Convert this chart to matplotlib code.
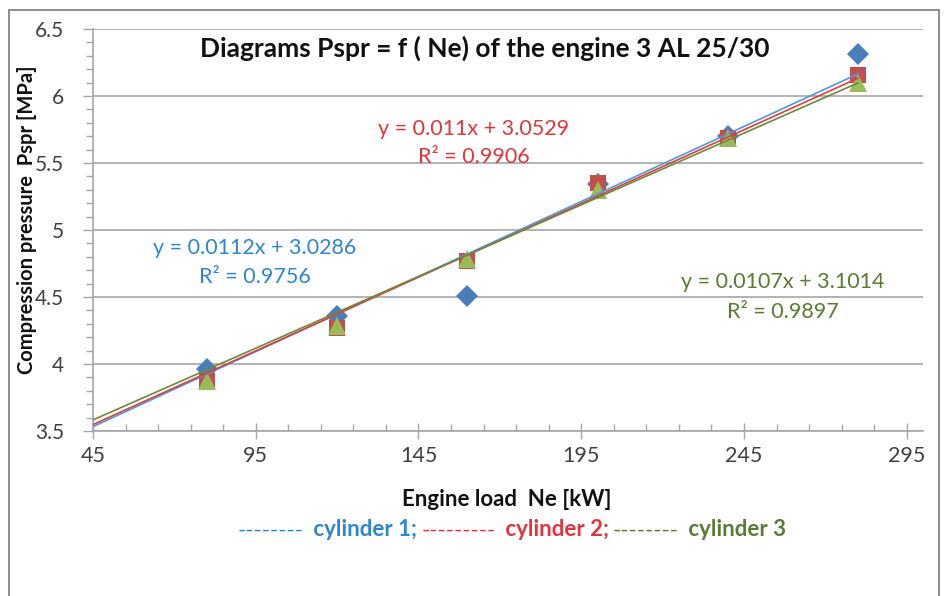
import matplotlib
matplotlib.use("Agg")
import matplotlib.pyplot as plt
import numpy as np
from matplotlib.offsetbox import TextArea, HPacker, AnnotationBbox
from matplotlib.patches import Rectangle

plt.rcParams["font.family"] = ["Lato", "DejaVu Sans"]

# engine load [kW]
load = [80, 120, 160, 200, 240, 280]
# compression pressure [MPa] per cylinder
cyl1 = [3.96, 4.36, 4.51, 5.34, 5.70, 6.31]
cyl2 = [3.87, 4.27, 4.77, 5.35, 5.69, 6.16]
cyl3 = [3.87, 4.28, 4.78, 5.30, 5.69, 6.10]
# Excel linear trendlines
slopes = [0.0112, 0.011, 0.0107]
intercepts = [3.0286, 3.0529, 3.1014]
r2 = [0.9756, 0.9906, 0.9897]
trend_x = [45, 280]

W, H = 952, 596
MARKER = ["#4a7ebb", "#c0504d", "#9bbb59"]
LINE = ["#4a9be0", "#e03c3c", "#6b8a3c"]
TEXT = ["#2e86d0", "#e0353a", "#5b7a32"]
GRID = "#a6a6a6"
TICK = "#404040"


def fx(x):
    return x / W


def fy(y):
    return 1 - y / H


fig = plt.figure(figsize=(W / 100, H / 100), dpi=100)
fig.patch.set_facecolor("white")

# chart-area frame
fig.add_artist(Rectangle((fx(9), fy(640)), fx(939 - 9), (640 - 10) / H,
                         transform=fig.transFigure, fill=False,
                         edgecolor="#8c8c8c", linewidth=1.4))

ax = fig.add_axes([fx(93), fy(431), fx(923 - 93), (431 - 29) / H])
ax.set_xlim(45, 300)
ax.set_ylim(3.5, 6.5)

series = [cyl1, cyl2, cyl3]
markers = ["D", "s", "^"]
msizes = [11, 12, 13.5]
for i, (vals, m) in enumerate(zip(series, markers)):
    ax.plot(load, vals, linestyle="none", marker=m, markersize=msizes[i],
            color=MARKER[i], markeredgewidth=0, zorder=3 + i)
for i in range(3):
    tx = np.array(trend_x, dtype=float)
    ax.plot(tx, slopes[i] * tx + intercepts[i], color=LINE[i], lw=1.2, zorder=7)

ax.set_xticks(np.arange(45, 296, 50))
ax.set_xticks(np.arange(45, 301, 10), minor=True)
ax.set_yticks(np.arange(3.5, 6.51, 0.5))
ax.set_yticks(np.arange(3.5, 6.51, 0.1), minor=True)
ax.set_yticklabels(["3.5", "4", "4.5", "5", "5.5", "6", "6.5"])
ax.grid(axis="y", which="major", color=GRID, lw=1.2)
ax.set_axisbelow(True)
for s in ["top", "right"]:
    ax.spines[s].set_visible(False)
for s in ["left", "bottom"]:
    ax.spines[s].set_color(GRID)
    ax.spines[s].set_linewidth(1.2)
ax.tick_params(axis="x", which="major", direction="inout", length=12, width=1,
               color=GRID, labelsize=15.5, labelcolor=TICK, pad=5)
ax.tick_params(axis="x", which="minor", direction="in", length=5, width=1,
               color=GRID)
ax.tick_params(axis="y", which="major", direction="out", length=7, width=1,
               color=GRID, labelsize=15, labelcolor=TICK, pad=14)
ax.tick_params(axis="y", which="minor", direction="out", length=5, width=1,
               color=GRID)

fig.text(fx(485), fy(48), "Diagrams Pspr = f ( Ne) of the engine 3 AL 25/30",
         ha="center", va="center", fontsize=19, color="#111111",
         fontweight="bold")
fig.text(fx(507), fy(500), "Engine load  Ne [kW]", ha="center", va="center",
         fontsize=16, fontweight="bold", color="#111111")
fig.text(fx(27), fy(220), "Compression pressure  Pspr [MPa]", ha="center",
         va="center", rotation=90, fontsize=14.5, fontweight="bold",
         color="#111111")

eq_pos = [(255, 248, 277), (474, 129, 157), (783, 282, 312)]
for i, (cx, y1, y2) in enumerate(eq_pos):
    fig.text(fx(cx), fy(y1), f"y = {slopes[i]}x + {intercepts[i]}",
             ha="center", va="center", fontsize=15.5, color=TEXT[i])
    fig.text(fx(cx), fy(y2), f"R² = {r2[i]}",
             ha="center", va="center", fontsize=15.5, color=TEXT[i])

# legend row typed as text, like the original
pieces = [("--------", TEXT[0], "normal"), (" cylinder 1;", TEXT[0], "bold"),
          ("---------", TEXT[1], "normal"), (" cylinder 2;", TEXT[1], "bold"),
          ("--------", TEXT[2], "normal"), (" cylinder 3", TEXT[2], "bold")]
boxes = [TextArea(t, textprops=dict(color=c, fontsize=16, fontweight=w))
         for t, c, w in pieces]
row = HPacker(children=boxes, align="baseline", pad=0, sep=3)
fig.add_artist(AnnotationBbox(row, (fx(512), fy(530)), xycoords="figure fraction",
                              frameon=False, box_alignment=(0.5, 0.5)))

fig.savefig("out.png", dpi=100, facecolor="white")
